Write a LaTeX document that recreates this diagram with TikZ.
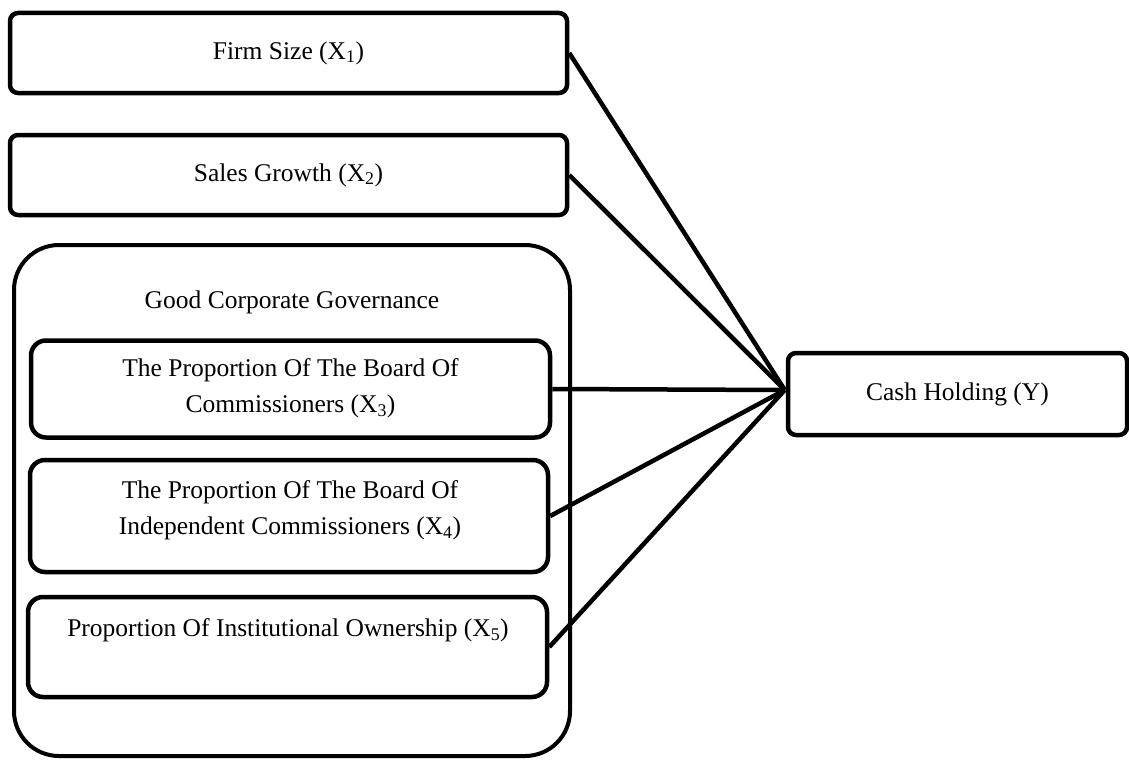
\documentclass[tikz,border=0pt]{standalone}
\usepackage{fontspec}
\setmainfont{Liberation Serif}
\usetikzlibrary{calc}
\begin{document}
\begin{tikzpicture}[x=1pt,y=-1pt,
  box/.style={draw=black, line width=4.5pt, rounded corners=8pt, fill=white, inner sep=0pt, align=center,
    font=\fontsize{25.5}{36}\selectfont},
  inbox/.style={box, rounded corners=15pt},
  grpbox/.style={box, rounded corners=45pt, line width=4pt},
  lbl/.style={inner sep=0pt, align=center, font=\fontsize{25.5}{36}\selectfont},
  conn/.style={draw=black, line width=4.5pt}]
\useasboundingbox (0,0) rectangle (1129,760);
% outer group
\node[grpbox, minimum width=556pt, minimum height=511pt] (gcg) at (292,500.5) {};
\node[lbl] (gcgl) at (292,302) {Good Corporate Governance};
% top boxes
\node[box, minimum width=557pt, minimum height=80pt] (firm) at (288.5,53) {Firm Size (X\textsubscript{1})};
\node[box, minimum width=557pt, minimum height=80pt] (sales) at (288.5,175) {Sales Growth (X\textsubscript{2})};
% inner boxes
\node[inbox, minimum width=519pt, minimum height=97pt] (x3) at (290.5,389) {};
\node[lbl] (x3l) at (290.5,388.5) {The Proportion Of The Board Of\\Commissioners (X\textsubscript{3})};
\node[inbox, minimum width=518pt, minimum height=112pt] (x4) at (289,516) {};
\node[lbl] (x4l) at (290,510) {The Proportion Of The Board Of\\Independent Commissioners (X\textsubscript{4})};
\node[inbox, minimum width=519pt, minimum height=100pt] (x5) at (287.5,647) {};
\node[lbl] (x5l) at (288,630) {Proportion Of Institutional Ownership (X\textsubscript{5})};
% dependent
\node[box, minimum width=339pt, minimum height=82pt] (cash) at (957.5,394) {Cash Holding (Y)};
\coordinate (conv) at ($(cash.west)+(-1,-4)$);
% connectors
\draw[conn] (firm.east) -- (conv);
\draw[conn] (sales.east) -- (conv);
\draw[conn] (x3.east) -- (conv);
\draw[conn] (x4.east) -- (conv);
\draw[conn] (x5.east) -- (conv);
\end{tikzpicture}
\end{document}
